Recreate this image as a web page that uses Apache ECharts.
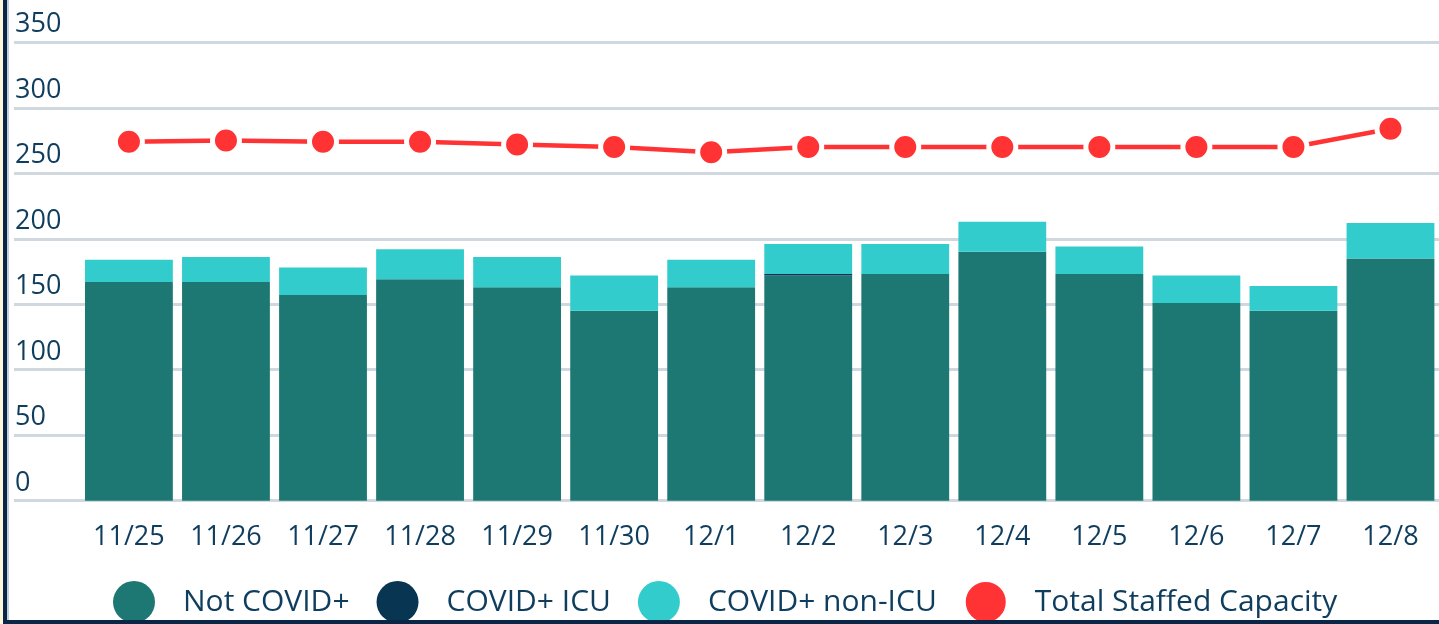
<!DOCTYPE html>
<html>
<head>
<meta charset="utf-8">
<script src="https://cdn.jsdelivr.net/npm/echarts@6/dist/echarts.min.js"></script>
<style>
html,body{margin:0;padding:0;background:#fff;}
#wrap{position:relative;width:1439px;height:624px;overflow:hidden;}
#chart{position:absolute;left:0;top:0;width:1439px;height:624px;}
.deco{position:absolute;pointer-events:none;}
</style>
</head>
<body>
<div id="wrap">
<div id="chart"></div>
<div class="deco" style="left:0;top:0;width:3px;height:624px;background:#fdf8dc;"></div>
<div class="deco" style="left:3px;top:0;width:4px;height:624px;background:#0a2647;"></div>
<div class="deco" style="left:7px;top:0;width:2px;height:620px;background:#c3cedb;"></div>
<div class="deco" style="left:3px;top:620px;width:1436px;height:4px;background:#0a2647;"></div>
</div>
<script>
const categories = ['11/25','11/26','11/27','11/28','11/29','11/30','12/1','12/2','12/3','12/4','12/5','12/6','12/7','12/8'];
const notCovid   = [167,167,157,169,163,145,163,172,173,190,173,151,145,185];
const covidIcu   = [0,0,0,0,0,0,0,1,0,0,0,0,0,0];
const covidNonIcu= [17,19,21,23,23,27,21,23,23,23,21,21,19,27];
const capacity   = [274,275,274,274,272,270,266,270,270,270,270,270,270,284];
const yTicks = [0,50,100,150,200,250,300,350];

const textColor = '#0f3d5e';
const font = 'Open Sans';
const chart = echarts.init(document.getElementById('chart'), null, {renderer:'canvas'});
chart.setOption({
  animation:false,
  textStyle:{fontFamily:font},
  grid:[
    {left:14, right:0, top:42.3, bottom:123.3},
    {left:80.4, width:1361.5, top:42.3, bottom:123.3}
  ],
  legend:{
    left:113, top:580, padding:0, icon:'circle', itemWidth:42, itemHeight:42, itemGap:27,
    textStyle:{fontSize:30, color:textColor, fontFamily:font, padding:[0,0,0,23]},
    data:['Not COVID+','COVID+ ICU','COVID+ non-ICU','Total Staffed Capacity']
  },
  xAxis:[
    {gridIndex:0, type:'value', show:false, min:0, max:1},
    {gridIndex:1, type:'category', data:categories,
     axisLine:{show:false}, axisTick:{show:false},
     axisLabel:{fontSize:27, color:textColor, margin:23, fontFamily:font}}
  ],
  yAxis:[
    {gridIndex:0, type:'value', min:yTicks[0], max:yTicks[yTicks.length-1], interval:50,
     axisLine:{show:false}, axisTick:{show:false},
     splitLine:{lineStyle:{color:'#cfd8df', width:3}},
     axisLabel:{inside:true, margin:1, align:'left', verticalAlign:'bottom', fontSize:27, lineHeight:27,
       padding:[0,0,4,0], color:textColor, fontFamily:font}},
    {gridIndex:1, type:'value', min:yTicks[0], max:yTicks[yTicks.length-1], interval:50, show:false,
     splitLine:{show:false}}
  ],
  series:[
    {name:'Not COVID+', type:'bar', stack:'a', xAxisIndex:1, yAxisIndex:1, data:notCovid,
     barCategoryGap:'9.5%', itemStyle:{color:'#1d7874'}},
    {name:'COVID+ ICU', type:'bar', stack:'a', xAxisIndex:1, yAxisIndex:1, data:covidIcu,
     itemStyle:{color:'#073552'}},
    {name:'COVID+ non-ICU', type:'bar', stack:'a', xAxisIndex:1, yAxisIndex:1, data:covidNonIcu,
     itemStyle:{color:'#33cccc'}},
    {name:'Total Staffed Capacity', type:'line', xAxisIndex:1, yAxisIndex:1, data:capacity,
     symbol:'circle', symbolSize:27, lineStyle:{color:'#ff3333', width:4.5},
     itemStyle:{color:'#ff3333', borderColor:'#ffffff', borderWidth:5}, z:5}
  ]
});
</script>
</body>
</html>
